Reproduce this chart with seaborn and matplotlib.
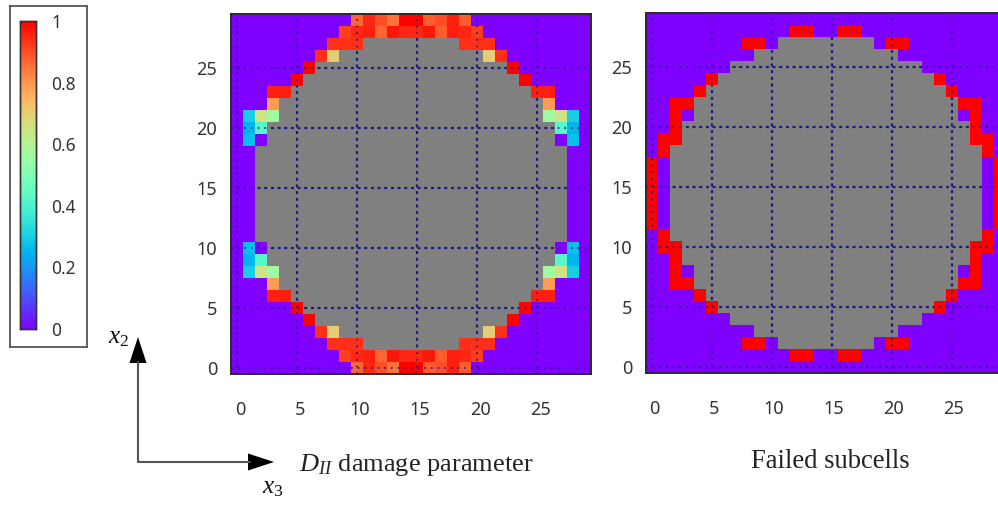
"""
Damage parameter and failed subcell maps, drawn as two heatmaps.
"""

import numpy as np
import matplotlib
matplotlib.use("Agg")
import matplotlib.pyplot as plt
from matplotlib.transforms import ScaledTranslation
import seaborn as sns

G = np.nan  # fibre cells, drawn gray

# Rows are listed top to bottom, as they look in the picture
damage_rows = [
    [0]*10 + [.87, .95, .90, .85, 1, 1, .88, .90, .96, .88] + [0]*10,
    [0]*9 + [.92, .95, .96, .87, .97, .95, .95, .97, .88, .96, .95, .92] + [0]*9,
    [0]*8 + [.94]*3 + [G]*8 + [.94]*3 + [0]*8,
    [0]*7 + [.94, .70] + [G]*12 + [.70, .94] + [0]*7,
    [0]*6 + [1] + [G]*16 + [1] + [0]*6,
    [0]*5 + [1] + [G]*18 + [1] + [0]*5,
    [0]*3 + [.96, .96] + [G]*20 + [.96, .96] + [0]*3,
    [0]*3 + [.79] + [G]*22 + [.79] + [0]*3,
    [0, .30, .65, .56] + [G]*22 + [.56, .65, .30, 0],
    [0, .25, .42] + [G]*24 + [.42, .25, 0],
    [0, .27, 0] + [G]*24 + [0, .27, 0],
    [0, 0] + [G]*26 + [0, 0],
    [0, 0] + [G]*26 + [0, 0],
    [0, 0] + [G]*26 + [0, 0],
    [0, 0] + [G]*26 + [0, 0],
    [0, 0] + [G]*26 + [0, 0],
    [0, 0] + [G]*26 + [0, 0],
    [0, 0] + [G]*26 + [0, 0],
    [0, 0] + [G]*26 + [0, 0],
    [0, .27, 0] + [G]*24 + [0, .27, 0],
    [0, .25, .42] + [G]*24 + [.42, .25, 0],
    [0, .30, .65, .56] + [G]*22 + [.56, .65, .30, 0],
    [0]*3 + [.79] + [G]*22 + [.79] + [0]*3,
    [0]*3 + [.96, .96] + [G]*20 + [.96, .96] + [0]*3,
    [0]*5 + [1] + [G]*18 + [1] + [0]*5,
    [0]*6 + [1] + [G]*16 + [1] + [0]*6,
    [0]*7 + [.94, .70] + [G]*12 + [.70, .94] + [0]*7,
    [0]*8 + [.94]*3 + [G]*8 + [.94]*3 + [0]*8,
    [0]*9 + [.92, .95, .96, .87, .97, .95, .95, .97, .88, .96, .95, .92] + [0]*9,
    [0]*10 + [.87, .95, .90, .85, 1, 1, .88, .90, .96, .88] + [0]*10,
]

failed_rows = [
    [0]*30,
    [0]*12 + [1, 1, 0, 0, 1, 1] + [0]*12,
    [0]*8 + [1, 1, 0] + [G]*8 + [0, 1, 1] + [0]*8,
    [0]*9 + [G]*12 + [0]*9,
    [0]*7 + [G]*16 + [0]*7,
    [0]*5 + [1] + [G]*18 + [1] + [0]*5,
    [0]*4 + [1] + [G]*20 + [1] + [0]*4,
    [0, 0, 1, 1] + [G]*22 + [1, 1, 0, 0],
    [0, 0, 1, 0] + [G]*22 + [0, 1, 0, 0],
    [0, 0, 1] + [G]*24 + [1, 0, 0],
    [0, 1, 1] + [G]*24 + [1, 1, 0],
    [0, 1] + [G]*26 + [1, 0],
    [1, 0] + [G]*26 + [0, 1],
    [1, 0] + [G]*26 + [0, 1],
    [1, 0] + [G]*26 + [0, 1],
    [1, 0] + [G]*26 + [0, 1],
    [1, 0] + [G]*26 + [0, 1],
    [1, 0] + [G]*26 + [0, 1],
    [0, 1] + [G]*26 + [1, 0],
    [0, 1, 1] + [G]*24 + [1, 1, 0],
    [0, 0, 1] + [G]*24 + [1, 0, 0],
    [0, 0, 1, 0] + [G]*22 + [0, 1, 0, 0],
    [0, 0, 1, 1] + [G]*22 + [1, 1, 0, 0],
    [0]*4 + [1] + [G]*20 + [1] + [0]*4,
    [0]*5 + [1] + [G]*18 + [1] + [0]*5,
    [0]*7 + [G]*16 + [0]*7,
    [0]*9 + [G]*12 + [0]*9,
    [0]*8 + [1, 1, 0] + [G]*8 + [0, 1, 1] + [0]*8,
    [0]*12 + [1, 1, 0, 0, 1, 1] + [0]*12,
    [0]*30,
]

axis_ticks = [0, 5, 10, 15, 20, 25]
colorbar_ticks = [0, 0.2, 0.4, 0.6, 0.8, 1]
colorbar_labels = ["0", "0.2", "0.4", "0.6", "0.8", "1"]

WIDTH = 998
HEIGHT = 505
TICK_FONT = "Noto Sans"
TICK_COLOR = "#333333"
GRID_COLOR = "#1c1c80"


def pixel_axes(fig, left, top, right, bottom):
    # Axes placed by the pixel box it takes in the picture
    return fig.add_axes([
        left / WIDTH,
        1 - bottom / HEIGHT,
        (right - left) / WIDTH,
        (bottom - top) / HEIGHT
    ])


def draw_map(ax, rows, x_pad, y_pad, x_shift, cbar_ax=None):
    data = np.array(rows, dtype=float)[::-1]

    sns.heatmap(
        data,
        ax=ax,
        cmap="rainbow",
        vmin=0,
        vmax=1,
        cbar=cbar_ax is not None,
        cbar_ax=cbar_ax,
        xticklabels=False,
        yticklabels=False,
        square=False
    )

    ax.set_ylim(0, 30)
    ax.set_xlim(0, 30)
    ax.set_facecolor("#808080")

    positions = np.array(axis_ticks) + 0.5
    ax.set_xticks(positions, [str(t) for t in axis_ticks])
    ax.set_yticks(positions, [str(t) for t in axis_ticks])
    ax.tick_params(axis="x", length=0, pad=x_pad, labelsize=13, labelcolor=TICK_COLOR)
    ax.tick_params(axis="y", length=0, pad=y_pad, labelsize=13, labelcolor=TICK_COLOR)

    # The numbers sit a little right of the grid lines
    offset = ScaledTranslation(x_shift / 100, 0, ax.figure.dpi_scale_trans)
    for label in ax.get_xticklabels():
        label.set_transform(label.get_transform() + offset)

    for label in ax.get_xticklabels() + ax.get_yticklabels():
        label.set_fontweight("medium")

    # Heavy dots show only on the gray cells, the mesh covers them elsewhere
    ax.set_axisbelow(True)
    ax.grid(True, color=GRID_COLOR, linewidth=1.6, linestyle=(0, (1.3, 1.7)))

    # Fine dots run over the coloured cells too
    fine = (0, (1, 3))
    ax.vlines(positions, 0, 30, color=GRID_COLOR, linewidth=1.2, linestyle=fine, zorder=3)
    ax.hlines(positions, 0, 30, color=GRID_COLOR, linewidth=1.2, linestyle=fine, zorder=3)

    for spine in ax.spines.values():
        spine.set_visible(True)
        spine.set_color("#2a2a2a")
        spine.set_linewidth(1.4)


def main():
    sns.set_theme(style="white")
    plt.rcParams["font.family"] = [TICK_FONT, "DejaVu Sans"]
    plt.rcParams["mathtext.fontset"] = "custom"
    plt.rcParams["mathtext.rm"] = "Liberation Serif"
    plt.rcParams["mathtext.it"] = "Liberation Serif:italic"

    fig = plt.figure(figsize=(WIDTH / 100, HEIGHT / 100), dpi=100, facecolor="white")

    # Box round the colour scale
    box = pixel_axes(fig, 9.5, 5.5, 87, 347)
    box.set_xticks([])
    box.set_yticks([])
    for spine in box.spines.values():
        spine.set_color("#555555")
        spine.set_linewidth(1.3)

    cax = pixel_axes(fig, 20, 21, 36, 329)

    ax_left = pixel_axes(fig, 231, 14, 591, 374)
    draw_map(ax_left, damage_rows, 19.5, 10, 3, cbar_ax=cax)

    cax.set_yticks(colorbar_ticks, colorbar_labels)
    cax.tick_params(length=0, pad=11, labelsize=12.5, labelcolor=TICK_COLOR)
    for label in cax.get_yticklabels():
        label.set_fontweight("medium")
    for spine in cax.spines.values():
        spine.set_visible(True)
        spine.set_color("#333333")
        spine.set_linewidth(1)

    ax_right = pixel_axes(fig, 646, 13, 1006, 373)
    draw_map(ax_right, failed_rows, 19.5, 10, 2)

    # Overlay in picture pixels for the axis arrows and captions
    over = fig.add_axes([0, 0, 1, 1], facecolor="none")
    over.set_xlim(0, WIDTH)
    over.set_ylim(HEIGHT, 0)
    over.axis("off")

    over.plot([138, 138, 250], [362, 462, 462], color="#555555", linewidth=1.5)
    over.fill([129.5, 146.5, 138], [363, 363, 337], color="black", linewidth=0)
    over.fill([248, 248, 274], [453.5, 470.5, 462], color="black", linewidth=0)

    over.text(119, 337, r"$x_2$", fontsize=18, ha="center", va="center", color="#111111")
    over.text(273, 487, r"$x_3$", fontsize=18, ha="center", va="center", color="#111111")

    over.text(
        299, 465, r"$D_{II}$ damage parameter",
        family="Liberation Serif", fontsize=19, ha="left", va="center", color="#222222"
    )
    over.text(
        830.5, 462, "Failed subcells",
        family="Liberation Serif", fontsize=19.2, ha="center", va="center", color="#222222"
    )

    fig.savefig("out.png", dpi=100)
    plt.close(fig)


if __name__ == "__main__":
    main()
